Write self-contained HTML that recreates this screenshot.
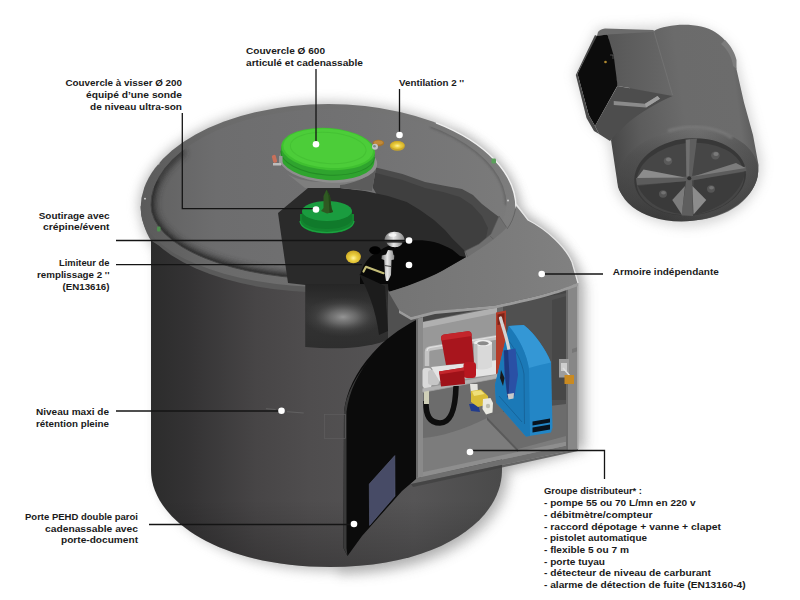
<!DOCTYPE html>
<html lang="fr">
<head>
<meta charset="utf-8">
<title>Cuve - schéma</title>
<style>
html,body{margin:0;padding:0;background:#fff;}
body{width:800px;height:600px;overflow:hidden;}
svg{display:block;}
text{font-family:"Liberation Sans",sans-serif;font-size:9.7px;font-weight:bold;fill:#1a1a1a;}
</style>
</head>
<body>
<svg width="800" height="600" viewBox="0 0 800 600">
<defs>
<filter id="blur8" x="-20%" y="-20%" width="140%" height="140%"><feGaussianBlur stdDeviation="6"/></filter>
<filter id="blur3" x="-20%" y="-20%" width="140%" height="140%"><feGaussianBlur stdDeviation="3"/></filter>
<filter id="blur1"><feGaussianBlur stdDeviation="1"/></filter>
<linearGradient id="gBody" x1="151" y1="0" x2="502" y2="0" gradientUnits="userSpaceOnUse">
<stop offset="0" stop-color="#2c2c2c"/>
<stop offset="0.10" stop-color="#333233"/>
<stop offset="0.30" stop-color="#474546"/>
<stop offset="0.45" stop-color="#4f4d4e"/>
<stop offset="0.75" stop-color="#565556"/>
<stop offset="1" stop-color="#4a4a4a"/>
</linearGradient>
<linearGradient id="gBodyBottom" x1="0" y1="500" x2="0" y2="568" gradientUnits="userSpaceOnUse">
<stop offset="0" stop-color="#000" stop-opacity="0"/>
<stop offset="1" stop-color="#000" stop-opacity="0.22"/>
</linearGradient>
<linearGradient id="gLid" x1="141" y1="0" x2="516" y2="0" gradientUnits="userSpaceOnUse">
<stop offset="0" stop-color="#606060"/>
<stop offset="0.2" stop-color="#6d6d6e"/>
<stop offset="0.6" stop-color="#727273"/>
<stop offset="1" stop-color="#7b7b7b"/>
</linearGradient>
<radialGradient id="gDome" cx="0.5" cy="0.5" r="0.5">
<stop offset="0" stop-color="#9a9a9a" stop-opacity="0.95"/>
<stop offset="0.35" stop-color="#8a8a8a" stop-opacity="0.6"/>
<stop offset="0.7" stop-color="#6a6a6a" stop-opacity="0.2"/>
<stop offset="1" stop-color="#555" stop-opacity="0"/>
</radialGradient>
</defs>
<rect width="800" height="600" fill="#fff"/>

<!-- SHADOW -->
<g id="shadow" filter="url(#blur8)" opacity="0.55">
<path d="M138.600,208 A189.700,106 0 0 1 518,208 L530,218 C555,232 575,255 581,283 L581,446 L505,468 C505,520 445,571 332,571 C225,571 157,520 157,470 L157,252 L144,232 Z" fill="#8a8a8a"/>
</g>
<g id="shadow2" filter="url(#blur8)" opacity="0.3">
<path d="M450,126 C485,145 512,175 518,208 L530,218 C555,232 575,255 581,283 L581,446 L505,468 C505,520 445,571 332,571 L332,300 Z" fill="#808080" transform="translate(6,5)"/>
</g>

<!-- BODY -->
<g id="body">
<path d="M151,239 L151,470 C151,520 220,567 330,567 C440,567 502,520 502,470 L502,236 Z" fill="url(#gBody)"/>
<path d="M151,239 L151,470 C151,520 220,567 330,567 C440,567 502,520 502,470 L502,236 Z" fill="url(#gBodyBottom)"/>
</g>

<!-- LID -->
<g id="lid">
<linearGradient id="gRim" x1="141" y1="0" x2="516" y2="0" gradientUnits="userSpaceOnUse">
<stop offset="0" stop-color="#5a5a5a"/>
<stop offset="0.2" stop-color="#6a6a6a"/>
<stop offset="0.75" stop-color="#757575"/>
<stop offset="1" stop-color="#7d7d7d"/>
</linearGradient>
<ellipse cx="328.5" cy="210.400" rx="187.500" ry="82.300" fill="#5a5a5a"/>
<path d="M140.600,206 C141,220 145.500,232 151,240.500 L175,256 L175,199 Z" fill="#5a5a5a"/>
<path id="lidTop" d="M140.600,208 A187.700,104 0 0 1 516,208 A187.700,79 0 0 1 140.600,208 Z" fill="url(#gRim)"/>
<clipPath id="cpLidTop"><path d="M140.600,208 A187.700,104 0 0 1 516,208 A187.700,79 0 0 1 140.600,208 Z"/></clipPath>
<clipPath id="cpLidIn"><path d="M151,205 A177.750,96 0 0 1 506.500,205 A177.750,74 0 0 1 151,205 Z"/></clipPath>
<g clip-path="url(#cpLidTop)">
<path d="M151,205 A177.750,96 0 0 1 506.500,205 A177.750,74 0 0 1 151,205 Z" fill="url(#gLid)"/>
<g clip-path="url(#cpLidIn)">
<path d="M183.1,149.9 A177.750,96 0 0 0 151,205 A177.750,74 0 0 0 412.2,270.3" fill="none" stroke="#2e2e2e" stroke-width="10" filter="url(#blur3)" opacity="0.8"/>
<path d="M157.1,180.2 A177.750,96 0 0 0 151,205 A177.750,74 0 0 0 365.7,277.4" fill="none" stroke="#2c2c2c" stroke-width="4" filter="url(#blur1)" opacity="0.75"/>
<path d="M506.500,205 A177.750,96 0 0 0 430.7,126.4" fill="none" stroke="#555" stroke-width="3" filter="url(#blur1)" opacity="0.6"/>
</g>
<path d="M153.7,188.3 A177.750,96 0 0 0 151,205 A177.750,74 0 0 0 335.0,279.0" fill="none" stroke="#444" stroke-width="1"/>
</g>
<!-- light edge on right -->
<path d="M436.0,122.8 A187.700,104 0 0 1 516,208" fill="none" stroke="#f0f0f0" stroke-width="1.400"/>
</g>

<!-- CUTOUT -->
<g id="cutout">
<!-- inner wall band -->
<path d="M366,171 L376,167.500 L402.500,174 L425,182 L443,185.500 L462,189 L473,195 L482,204 L491,211 L499,217 L499,222 L490,236 L478,246 L466,252 L440,240 L380,200 Z" fill="#4a4a4a"/>
<path d="M366,176 L376,173 L402.500,180 L425,188 L443,192 L460,197 L472,205 L482,216 L488,228 L486,238 L478,246 L466,252 L440,240 L380,200 Z" fill="#3f3f3f"/>
<!-- rim cut surface -->
<path d="M499,216 L507,228 L498,239 L481,251 L468,258 L465,251 L479,244 L491,234 Z" fill="#6f6f6f" stroke="#585858" stroke-width="0.600"/>
<path d="M490,236 L497.500,243" stroke="#585858" stroke-width="0.600" fill="none"/>
<!-- interior (dark gray) -->
<path d="M278,213 L308,188 L340,188 L365,191 L388,196 L406.700,202 L420,210 L434,220 L445,230 L452.500,238.700 L464,250 L466,257 L440,272 L426,280 L388,292 L388,340 L305.500,347 L305.500,285 L288,283 Z" fill="#2a2a2a"/>
<!-- black blob (inner tank opening) -->
<path d="M360,292 L360,275 C362,268 365,262 370,257 C376,252 382,249 388,246 C396,243 404,241 412,240.500 C420,240 427,240.500 434,242 C441,244 447,246.500 452.500,249.700 L460,256 L466,257 L440,272 L426,280 L388,292 Z" fill="#080808"/>
</g>

<!-- DOME (inner tank seen through body cutout) -->
<g id="dome">
<linearGradient id="gDomeV" x1="0" y1="283" x2="0" y2="349" gradientUnits="userSpaceOnUse">
<stop offset="0" stop-color="#252525"/>
<stop offset="0.35" stop-color="#343434"/>
<stop offset="1" stop-color="#2e2e2e"/>
</linearGradient>
<path d="M305.5,284 L388,284 L392,338 C372,348 340,350 305.5,347 Z" fill="url(#gDomeV)"/>
<ellipse cx="343" cy="317" rx="40" ry="20" fill="url(#gDome)"/>
<!-- dark strip -->
<path d="M359,274 L385,286 L388,331 L379,335 C376,310 368,290 359,274 Z" fill="#1c1c1c"/>
</g>

<!-- ARMOIRE -->
<linearGradient id="gArmTop" x1="390" y1="0" x2="578" y2="0" gradientUnits="userSpaceOnUse">
<stop offset="0" stop-color="#747474"/><stop offset="0.6" stop-color="#7b7b7b"/><stop offset="1" stop-color="#818181"/>
</linearGradient>
<g id="armoire">
<!-- left outer wall -->
<path d="M388,290 L412,316 L421,330 L421,345 L388,345 Z" fill="#505050"/>
<!-- interior base -->
<path d="M421,312 L572,284 L572,442 L421,478 Z" fill="#6b6b6b"/>
<!-- dark back right -->
<path d="M503,300 L567,288 L567,425 L503,425 Z" fill="#505050"/>
<path d="M552,300 L567,296 L567,400 L552,400 Z" fill="#474747"/>
<!-- light panel -->
<path d="M423,324 L497,309 L497,379 L423,393 Z" fill="#989898"/>
<path d="M423,322 L497,307.5 L497,313 L423,328 Z" fill="#b0b0b0"/>
<!-- shadow under top -->
<path d="M421,316 L572,287 L572,292 L497,306 L421,322 Z" fill="#454545"/>
<!-- floor -->
<path d="M423,437 C440,436 465,428 487,417 L520,447 L566,434 L572,440 L421,478 Z" fill="#7c7c7c"/>
<path d="M423,438 C440,437 465,429 487,418 L497,379 L423,393 Z" fill="#6c6c6c"/>
<!-- platform -->
<path d="M487,417 L500,412 L566,404 L566,436 L518,449 Z" fill="#6c6c6c"/>
<path d="M487,417 L518,449 L518,452 L487,420 Z" fill="#5a5a5a"/>
<!-- lip -->
<path d="M419,473 L578,439 L578,443 L413,479 Z" fill="#8e8e8e"/>
<path d="M413,479 L578,443 L578,449 L411,484 Q410,482 411,480.500 Z" fill="#6f6f6f"/>
<path d="M411,484 L578,449 L578,451 L413,487 Z" fill="#3e3e3e" opacity="0.7"/>
<!-- left post -->
<path d="M416,319 L423,317 L423,476 L416,478 Z" fill="#8a8a8a"/>
<path d="M416,319 L418,318.500 L418,477.500 L416,478 Z" fill="#6a6a6a"/>
<!-- right wall -->
<path d="M566,288 L578,283 L578,449 L566,451 Z" fill="#878787"/>
<path d="M566,288 L568,287.500 L568,450.500 L566,451 Z" fill="#6a6a6a"/>
<path d="M572,349 L578,347 L578,351 L572,353 Z" fill="#777"/>
<path d="M577,283 L578.500,283 L578.500,449 L577,449 Z" fill="#a8a8a8"/>
<!-- top -->
<path d="M388.5,292 C410,286 440,274 466,258 C482,248 500,236 508,226 L516,206 L528,220 C548,230 566,248 572,262 L578,283 C560,290 540,296 495,305.5 L435,311 L411,317 L399,310 Z" fill="url(#gArmTop)"/>
<path d="M399,310 L411,317 L435,311 L495,305.5 C540,296 560,290 578,283 L578,286 C560,293 540,299 495,308.5 L435,314 L411,320 L399,313 Z" fill="#9b9b9b"/>
<path d="M516,204 L528,220 C548,230 566,248 572,262 L578,283" fill="none" stroke="#e6e6e6" stroke-width="1.300"/>
<path d="M515.500,209 C514,217 511,224 507,229" fill="none" stroke="#5e5e5e" stroke-width="0.800"/>
</g>

<!-- EQUIPMENT -->
<g id="equip">
<!-- hose -->
<path d="M426,401 C425.500,416 430,423 440,423 C451,423 455.500,408 456,386" fill="none" stroke="#0e0e0e" stroke-width="5.600"/>
<!-- silver fitting -->
<rect x="424" y="387" width="5" height="17" fill="#cfcfb8"/>
<rect x="422.500" y="368" width="9" height="20" rx="3" fill="#dadada"/>
<rect x="428" y="370" width="11" height="15" rx="3" fill="#c6c6c6"/>
<!-- lower bar -->
<path d="M422.500,388.500 L497.500,374.500 L497.500,378 L422.500,392 Z" fill="#b2b2b2"/>
<!-- white plate -->
<path d="M431,367 L497.500,360 L497.500,374 L440,382 Z" fill="#e4e4e4"/>
<!-- pipe frame -->
<path d="M427,366 L427,352 Q427,349 430,348.500 L496,337.500 Q500,337 500,341 L500,372" fill="none" stroke="#c4c4c4" stroke-width="4.500" stroke-linejoin="round"/>
<path d="M427,351 Q427,348 430,347.500 L496,336.500" fill="none" stroke="#e2e2e2" stroke-width="1.200"/>
<!-- white cylinder -->
<path d="M474,344 L492,342 L492,367 Q483,371.500 474,368 Z" fill="#d9d9d9"/>
<ellipse cx="483" cy="343" rx="9" ry="3.300" fill="#ededed"/>
<ellipse cx="483" cy="343.300" rx="5.800" ry="2" fill="#8a8a8a"/>
<path d="M474,344 L477.500,344 L477.500,369 L474,368 Z" fill="#bdbdbd"/>
<!-- red blocks -->
<path d="M441,338 Q441,335 444,334.500 L468,331.200 Q471,331 471.500,334 L474,362.500 L446,365 Z" fill="#a8151d"/>
<path d="M441,338 Q441,335 444,334.500 L468,331.200 Q471,331 471.500,334 L471.700,336 L441.500,340.500 Z" fill="#c3252b"/>
<rect x="463.500" y="362" width="12.500" height="16" rx="3.500" fill="#b8161f"/>
<path d="M439,371.500 L464,367.500 L465,384 L441,386.500 Z" fill="#9f1219"/>
<path d="M439,371.500 L464,367.500 L464.300,370.500 L439.300,374.500 Z" fill="#c3262c"/>
<!-- red vertical bar -->
<path d="M496,312.500 L506,310.500 L506,372 L496,374 Z" fill="#b43c2a"/>
<path d="M497.500,314.500 L504.500,313 L504.500,324 L497.500,325 Z" fill="#7d2418"/>
<!-- yellow valve -->
<path d="M470,384 L477.500,384 L478,394 L471,394 Z" fill="#e4e4e0"/>
<path d="M469,404 L478,404 L480,412 L471,411 Z" fill="#223c8c"/>
<path d="M471,391 L481,389.500 L488,396 L488.500,404 L478,407 L471,402 Z" fill="#d8bd38"/>
<path d="M472,391.500 L480.500,390.300 L484.500,394 L474,396 Z" fill="#efe07a"/>
<path d="M483,399 L490.500,398 L493,403 L492.500,412.500 L486,414.500 L482.500,409 Z" fill="#e9e9e1"/>
<circle cx="488" cy="406" r="2.200" fill="#bdbdb0"/>
<!-- blue box -->
<path d="M508.750,326 L523.750,325 C535,334 545,348 551,362.500 L552.500,427.500 L551,432.500 L526,436.500 L496,402.500 L495,385 Z" fill="#2386c6"/>
<path d="M508.750,326 L523.750,325 C535,334 545,348 551,362.500 C544,364 536,366 529,368 C526,352 518,337 508.750,326 Z" fill="#3497d5"/>
<path d="M508.750,326 C519,338 527,354 529,370 L530,436 L526,436.500 L496,402.500 L495,385 Z" fill="#1b79b7"/>
<path d="M508,340 C516,350 522,362 524,374 L524.500,424" fill="none" stroke="#155f94" stroke-width="0.800"/>
<path d="M499,396 L522,422" fill="none" stroke="#155f94" stroke-width="0.800"/>
<path d="M532.500,421.500 L550,418.500 L550,422.500 L532.500,425.500 Z" fill="#08131e"/>
<path d="M532.500,427.500 L550,424.500 L550,429.500 L532.500,432.500 Z" fill="#08131e"/>
<!-- nozzle -->
<path d="M500.500,318 C503,328 507,338 509,350" fill="none" stroke="#d2d2d2" stroke-width="3.200" stroke-linecap="round"/>
<path d="M503.500,350.500 L515.500,348.500 L518,375 L514.500,396 L507.500,397.500 L504.500,375 Z" fill="#2a50a5"/>
<path d="M504,350.500 L508,350 L509.500,376 L508.500,397 L507.500,397.500 L505,375 Z" fill="#1d3a80"/>
<path d="M507.500,394 L514,393 L513.500,398.500 L508.500,399.500 Z" fill="#c9c9c9"/>
<path d="M501,370 L504.500,378 L503,386 L500,378 Z" fill="#1a1a1a"/>
<!-- padlock -->
<rect x="559" y="359" width="10" height="18.500" fill="#9c9c9c"/>
<rect x="561" y="363" width="6" height="8" fill="#cfcfcf"/>
<path d="M563,368 L570,376" stroke="#e0e0e0" stroke-width="1.500"/>
<rect x="564.500" y="375" width="9.500" height="9" fill="#c98a22"/>
</g>

<!-- DOOR -->
<g id="door">
<path d="M416,320 C399,329 384,340 372,354 C356,372 346,392 344,412 L343.500,548 L347.500,556 L362,536 L402,491 L416,479 Z" fill="#0b0b0b"/>
<path d="M344,412 L343.500,548 L347.500,556 L346.500,548 L346.500,412 C349,392 358,372 374,354 C360,370 346,392 344,412 Z" fill="#3a3a3a"/>
<path d="M369.300,484 L394.800,455.600 L395,496 L369.600,525.400 Z" fill="#474b66" stroke="#5a5f7c" stroke-width="0.600"/>
</g>

<!-- SMALL DETAILS -->
<g id="details">
<rect x="324.400" y="414.400" width="21" height="24" fill="none" stroke="#5e5d5e" stroke-width="0.700"/>
<path d="M266,408.700 L275.600,409.500 M287,411.700 L303.700,413" stroke="#6a6a6a" stroke-width="0.700" fill="none"/>
<circle cx="145" cy="198.700" r="0.900" fill="#d8d8d8"/>
<circle cx="158.700" cy="163.700" r="0.800" fill="#cfcfcf"/>
<circle cx="508" cy="200.500" r="0.900" fill="#d8d8d8"/>
<rect x="157" y="226.500" width="3.500" height="5" rx="1" fill="#4f8f4f"/>
<rect x="491.500" y="158.500" width="4.500" height="5" rx="1.200" fill="#5aa05a"/>
</g>

<!-- GREEN LIDS -->
<g id="green">
<!-- flange / lighter area under the big lid -->
<path d="M285,172 C300,186 352,186 374,168 L376,168 L372,191 L340,188 L305,188 Z" fill="#7e7e7e"/>
<path d="M340,188 L372,191 L376,168 C368,178 352,184 340,185 Z" fill="#5c5c5c"/>
<g transform="translate(0,1) rotate(4 328 150)">
<ellipse cx="329" cy="160" rx="49" ry="21.500" fill="#8e8e8e"/>
<path d="M281,148 L281,158 A47,21 0 0 0 375,158 L375,148 Z" fill="#2fa42e"/>
<path d="M281,153 A47,21 0 0 0 375,153" fill="none" stroke="#248c26" stroke-width="1"/>
<ellipse cx="328" cy="148" rx="47" ry="21" fill="#3fc030"/>
<ellipse cx="328" cy="147.300" rx="45" ry="19.500" fill="#4ccd39"/>
<ellipse cx="328" cy="147" rx="38" ry="15.500" fill="none" stroke="#45c234" stroke-width="1"/>
</g>
<!-- hinge left -->
<rect x="272.500" y="155" width="4" height="8" rx="1.500" fill="#c9705a" transform="rotate(-15 274 159)"/>
<rect x="279" y="156" width="3.500" height="9" fill="#9a9a9a"/>
<rect x="273" y="163" width="8" height="2.500" fill="#bdbdbd"/>
<!-- small lid -->
<path d="M300,214 L300,222 A27,11.500 0 0 0 354,222 L354,214 Z" fill="#13842f"/>
<path d="M300,221 A27,11.500 0 0 0 354,221" fill="none" stroke="#1ba340" stroke-width="1.200"/>
<path d="M302,211 L302,219 A25,10 0 0 0 352,219 L352,211 Z" fill="#107a2b"/>
<ellipse cx="327" cy="211" rx="25" ry="10" fill="#1a9c3f"/>
<path d="M321,211 L323.500,208 L323.500,196 L326.500,189.500 L330,196 L331.500,208 L333,212 L327,213.500 Z" fill="#2f5a22"/>
<path d="M326.500,189.500 L330,196 L331.500,208 L333,212 L329.500,213 L328.500,196 Z" fill="#244818"/>
</g>

<!-- FITTINGS ON TOP -->
<g id="fittings">
<radialGradient id="gYel" cx="0.5" cy="0.6" r="0.6">
<stop offset="0" stop-color="#fff3a0"/><stop offset="0.4" stop-color="#ecd040"/><stop offset="1" stop-color="#c9a422"/>
</radialGradient>
<linearGradient id="gSil" x1="0" y1="0" x2="1" y2="0">
<stop offset="0" stop-color="#7a7a7a"/><stop offset="0.45" stop-color="#e8e8e8"/><stop offset="1" stop-color="#8a8a8a"/>
</linearGradient>
<ellipse cx="397.400" cy="146" rx="7.500" ry="4.800" fill="#c9a62a"/>
<ellipse cx="397.400" cy="145" rx="7" ry="4" fill="url(#gYel)"/>
<ellipse cx="378.400" cy="143" rx="5.800" ry="3.200" fill="#a87428"/>
<ellipse cx="378.400" cy="142.500" rx="4.500" ry="2" fill="#c08a3a"/>
<circle cx="375" cy="146.700" r="3" fill="#c4c4c8"/>
<circle cx="374.500" cy="146.200" r="1.300" fill="#7a8a8a"/>
<!-- yellow cap inside -->
<ellipse cx="353.400" cy="256.800" rx="7.500" ry="6.400" fill="url(#gYel)"/>
<!-- black plug -->
<ellipse cx="375" cy="250.300" rx="5.800" ry="4" fill="#000"/>
<!-- sphere -->
<path d="M384.500,240.500 C384.500,235 389,231.800 394.300,231.800 C400,231.800 404.500,235 404.500,240.500 Z" fill="url(#gSil)"/>
<path d="M386.500,242.500 L402.500,242.500 C402,245.500 398.500,247.200 395,247.200 C391,247.200 387.500,245.500 386.500,242.500 Z" fill="url(#gSil)"/>
<path d="M384.500,241.500 L404.500,241.500" stroke="#333" stroke-width="1.600"/>
<ellipse cx="392.500" cy="235" rx="4" ry="1.800" fill="#f8f8f8" opacity="0.85"/>
<!-- limiter -->
<path d="M388,250 L392.500,250.500 L393.500,255 L394.300,255.500 L394,259.500 L391.500,260 L391,275 L388,281 L386,281 L385,275 L384.200,260 L381.500,259 L381.800,255.500 L386,254.500 Z" fill="url(#gSil)"/>
<path d="M384.500,265.500 L391.200,266.500" stroke="#444" stroke-width="1"/>
<path d="M363.500,271.500 L366,266.800 L383.500,273.200" fill="none" stroke="#c4bd78" stroke-width="2.200" stroke-linejoin="round" stroke-linecap="round"/>
</g>

<!-- SMALL TANK (top right) -->
<g id="smalltank">
<linearGradient id="gSm" x1="608" y1="120" x2="760" y2="100" gradientUnits="userSpaceOnUse">
<stop offset="0" stop-color="#474747"/>
<stop offset="0.2" stop-color="#5c5c5c"/>
<stop offset="0.5" stop-color="#6b6b6b"/>
<stop offset="0.85" stop-color="#6c6c6c"/>
<stop offset="0.95" stop-color="#595959"/>
<stop offset="1" stop-color="#484848"/>
</linearGradient>
<linearGradient id="gTorusH" x1="617" y1="0" x2="760" y2="0" gradientUnits="userSpaceOnUse">
<stop offset="0" stop-color="#2a2a2a" stop-opacity="0.3"/>
<stop offset="0.3" stop-color="#2a2a2a" stop-opacity="0.15"/>
<stop offset="0.6" stop-color="#888" stop-opacity="0.12"/>
<stop offset="1" stop-color="#333" stop-opacity="0.2"/>
</linearGradient>
<linearGradient id="gTorus" x1="0" y1="125" x2="0" y2="222" gradientUnits="userSpaceOnUse">
<stop offset="0" stop-color="#707070"/>
<stop offset="0.25" stop-color="#5c5c5c"/>
<stop offset="0.7" stop-color="#4c4c4c"/>
<stop offset="1" stop-color="#3a3a3a"/>
</linearGradient>
<g filter="url(#blur8)" opacity="0.4"><path d="M598,28 L660,26 C700,18 735,40 738,66 L762,160 C764,205 720,230 678,226 C645,222 622,206 616,188 L608,140 L590,122 L574,74 Z" fill="#999"/></g>
<!-- cylinder side -->
<path d="M653.750,31 C668,23 700,22 715,32 C726,39 733,49 735,58 L736,67 L744,102.500 L753,135 L758.500,165 C760,200 722,224 680,220 C648,217 622,202 618,187 L611,140 L640,60 Z" fill="url(#gSm)"/>
<!-- far-end rim -->
<path d="M725,40 C731,46 735,53 736.500,60 L736.500,69 L733,66 C732,58 728,50 721,44 Z" fill="#7c7c7c"/>
<!-- cabinet: side face -->
<linearGradient id="gBoxSide" x1="608" y1="0" x2="672" y2="0" gradientUnits="userSpaceOnUse">
<stop offset="0" stop-color="#575757"/><stop offset="1" stop-color="#686868"/>
</linearGradient>
<path d="M607.500,33.750 L653.750,31 L672.500,95 L617.500,86 Z" fill="url(#gBoxSide)"/>
<path d="M653.750,31 L672.500,95" stroke="#777" stroke-width="0.700" fill="none"/>
<path d="M598,32 Q600,29 605,28.500 L653.750,30 L653.750,32 L607.500,34.500 L597,36 Z" fill="#6c6c6c"/>
<!-- black opening -->
<path d="M596,36 L607.500,34.500 L613.750,56 L617.500,85.500 L595,126 L588.750,115 L577.500,73.750 Z" fill="#0c0c0c"/>
<path d="M577.500,73.750 L588.750,115 L595,126 L599,134 L594,131 L586.500,118 L575.800,75 L595,35 L597,36 Z" fill="#4a4a4a"/>
<circle cx="605.500" cy="62" r="1.300" fill="#b08a30"/>
<path d="M610,55 L613,55 L613,59" fill="none" stroke="#777" stroke-width="0.600"/>
<!-- slanted face -->
<path d="M617.500,86 L672.500,96 C656,103 640,113 630,121 C622,128 616,134 610,141 L599,134 L595,126 Z" fill="#4d4d4d"/>
<path d="M613.750,101 L645,103.750 L657.500,96 L660,98.750 L646,107.500 L613.750,105 Z" fill="#8b8b8b"/>
<path d="M645,103.750 L657.500,96 L660,98.750 L646,107.500 Z" fill="#a0a0a0"/>
<!-- near end: torus + recess -->
<g transform="rotate(-6 689 176)">
<ellipse cx="688" cy="175" rx="70.500" ry="46" fill="url(#gTorus)"/>
<ellipse cx="688" cy="175" rx="70.500" ry="46" fill="url(#gTorusH)"/>
<ellipse cx="690" cy="177" rx="56" ry="38.500" fill="#383838"/>
<ellipse cx="690" cy="179" rx="54" ry="36" fill="#464646"/>
</g>
<!-- torus top highlight -->
<path d="M668,131 C690,124 715,126 732,138" fill="none" stroke="#7c7c7c" stroke-width="3" filter="url(#blur1)" opacity="0.8"/>
<!-- lower pockets darker -->
<path d="M638,186 L686,181 L682,214 C662,212 645,202 638,186 Z" fill="#3a3a3a"/>
<path d="M694,180 L745,172 C742,192 722,210 692,215 Z" fill="#3c3c3c"/>
<!-- cross ribs -->
<path d="M685.500,139.500 L697,138.500 L692,177 L693,216 L681.500,215.500 L686.500,178 Z" fill="#5e5e5e"/>
<path d="M686,140 L690,139.500 L689,178 L686.500,178 Z" fill="#707070"/>
<path d="M636,178 L689,176.500 L746,166.500 L746.500,171 L689,181 L637,185 Z" fill="#5c5c5c"/>
<!-- ramp highlights -->
<path d="M637,178 L643.500,169.500 L685,177.500 Z" fill="#8c8c8c"/>
<path d="M745.500,168 L736,163 L693.500,176.500 Z" fill="#7c7c7c"/>
<path d="M672.250,200 L681.800,214.500 L685,186 Z" fill="#7c7c7c"/>
<path d="M692.400,186 L693.500,214.500 L706.250,200 Z" fill="#8c8c8c"/>

<!-- studs -->
<g>
<ellipse cx="668" cy="161" rx="4.300" ry="4" fill="#5a5a5a"/><ellipse cx="668.500" cy="159.500" rx="2.600" ry="2" fill="#777"/>
<ellipse cx="715.400" cy="155.400" rx="4.300" ry="4" fill="#5a5a5a"/><ellipse cx="716" cy="154" rx="2.600" ry="2" fill="#7a7a7a"/>
<ellipse cx="663" cy="194" rx="4" ry="3.700" fill="#555"/><ellipse cx="663.500" cy="192.800" rx="2.400" ry="1.800" fill="#727272"/>
<ellipse cx="711" cy="189" rx="4" ry="3.700" fill="#555"/><ellipse cx="711.500" cy="187.800" rx="2.400" ry="1.800" fill="#727272"/>
</g>
<circle cx="689.250" cy="178.300" r="2" fill="#2e2e2e"/>
</g>

<!-- LEADER LINES -->
<g id="leaders" fill="none" stroke="#141414" stroke-width="1.300">
<path d="M316,69 L316,144"/>
<path d="M399.500,89 L399.500,134"/>
<path d="M182.300,113 L182.300,208.700 L316,208.700"/>
<path d="M116,240.500 L409,240.500"/>
<path d="M116,264.700 L362,264.700"/>
<path d="M116,411 L281,411"/>
<path d="M149,524.500 L354,524.500"/>
<path d="M541.500,274 L603,274"/>
<path d="M470,450.500 L604.500,450.500 L604.500,479"/>
</g>
<g id="dots" fill="#fff">
<circle cx="316" cy="144.200" r="3.300"/>
<circle cx="399.500" cy="135" r="3.300"/>
<circle cx="316" cy="209.500" r="3.300"/>
<circle cx="409" cy="240.500" r="3.300"/>
<circle cx="409" cy="265" r="3.300"/>
<circle cx="281.500" cy="410.700" r="3.300"/>
<circle cx="354" cy="524" r="3.300"/>
<circle cx="541.700" cy="274" r="3.300"/>
<circle cx="470" cy="452" r="3.300"/>
</g>

<!-- LABELS -->
<g id="labels">
<text x="246" y="54" textLength="79" lengthAdjust="spacingAndGlyphs">Couvercle Ø 600</text>
<text x="246" y="65.500" textLength="117" lengthAdjust="spacingAndGlyphs">articulé et cadenassable</text>
<text x="399" y="85.600" textLength="65" lengthAdjust="spacingAndGlyphs">Ventilation 2 ''</text>
<text x="65.500" y="86" textLength="116.500" lengthAdjust="spacingAndGlyphs">Couvercle à visser Ø 200</text>
<text x="86" y="98" textLength="96" lengthAdjust="spacingAndGlyphs">équipé d’une sonde</text>
<text x="90" y="109.500" textLength="92" lengthAdjust="spacingAndGlyphs">de niveau ultra-son</text>
<text x="38.700" y="218.700" textLength="70.800" lengthAdjust="spacingAndGlyphs">Soutirage avec</text>
<text x="43" y="229.500" textLength="66.500" lengthAdjust="spacingAndGlyphs">crépine/évent</text>
<text x="59" y="265.500" textLength="50.500" lengthAdjust="spacingAndGlyphs">Limiteur de</text>
<text x="37" y="278" textLength="72.500" lengthAdjust="spacingAndGlyphs">remplissage 2 ''</text>
<text x="62.500" y="290" textLength="47" lengthAdjust="spacingAndGlyphs">(EN13616)</text>
<text x="36" y="415" textLength="73" lengthAdjust="spacingAndGlyphs">Niveau maxi de</text>
<text x="36" y="427" textLength="73" lengthAdjust="spacingAndGlyphs">rétention pleine</text>
<text x="25" y="520" textLength="113" lengthAdjust="spacingAndGlyphs">Porte PEHD double paroi</text>
<text x="45" y="532" textLength="93" lengthAdjust="spacingAndGlyphs">cadenassable avec</text>
<text x="61" y="543" textLength="77" lengthAdjust="spacingAndGlyphs">porte-document</text>
<text x="612.800" y="275.300" textLength="106" lengthAdjust="spacingAndGlyphs">Armoire indépendante</text>
<text x="544" y="494.400" textLength="98" lengthAdjust="spacingAndGlyphs">Groupe distributeur* :</text>
<text x="544" y="506.100" textLength="151.600" lengthAdjust="spacingAndGlyphs">- pompe 55 ou 70 L/mn en 220 v</text>
<text x="544" y="517.800" textLength="108.500" lengthAdjust="spacingAndGlyphs">- débitmètre/compteur</text>
<text x="544" y="529.500" textLength="177" lengthAdjust="spacingAndGlyphs">- raccord dépotage + vanne + clapet</text>
<text x="544" y="541.200" textLength="103" lengthAdjust="spacingAndGlyphs">- pistolet automatique</text>
<text x="544" y="552.900" textLength="85" lengthAdjust="spacingAndGlyphs">- flexible 5 ou 7 m</text>
<text x="544" y="564.600" textLength="61" lengthAdjust="spacingAndGlyphs">- porte tuyau</text>
<text x="544" y="576.300" textLength="167" lengthAdjust="spacingAndGlyphs">- détecteur de niveau de carburant</text>
<text x="544" y="588" textLength="201.600" lengthAdjust="spacingAndGlyphs">- alarme de détection de fuite (EN13160-4)</text>
</g>

</svg>
</body>
</html>
